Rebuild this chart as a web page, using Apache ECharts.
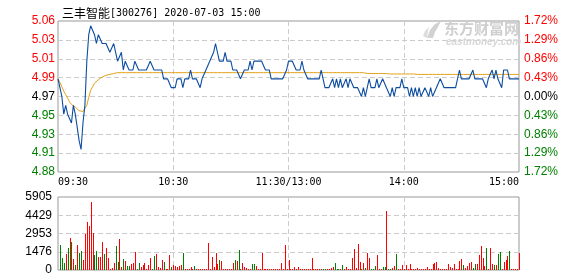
<!DOCTYPE html>
<html><head><meta charset="utf-8">
<script src="https://cdn.jsdelivr.net/npm/echarts@6/dist/echarts.min.js"></script>
<style>html,body{margin:0;padding:0;background:#fff}#c{width:578px;height:276px}</style>
</head><body><div id="c"></div>
<script>
const stockName = '三丰智能';
const stockCode = '[300276]';
const dateTime = '2020-07-03 15:00';
const prevClose = 4.97;
const pctStep = 0.43;
const timeTicks = ['09:30', '10:30', '11:30/13:00', '14:00', '15:00'];
const volTicks = [0, 1476, 2953, 4429, 5905];

const price = [
4.99,4.98,4.97,4.95,4.96,4.95,4.95,4.94,4.96,4.95,
4.95,4.92,4.91,4.94,4.96,5.01,5.04,5.05,5.05,5.04,
5.03,5.04,5.04,5.03,5.03,5.03,5.03,5.02,5.02,5.03,
5.02,5.01,5.01,5.02,5.00,5.01,5.01,5.00,5.00,5.00,
5.01,5.01,5.00,5.00,5.00,5.00,5.00,5.00,5.01,5.01,
5.00,5.00,5.00,5.00,5.00,4.99,4.99,4.99,4.99,4.98,
4.98,4.98,4.99,4.99,4.99,4.98,4.99,4.99,4.99,5.00,
4.99,4.99,4.99,4.99,4.98,4.99,4.99,5.00,5.00,5.01,
5.01,5.02,5.03,5.03,5.01,5.01,5.01,5.02,5.01,5.01,
5.01,5.00,5.00,5.00,5.00,4.99,4.99,5.00,5.00,5.00,
5.01,5.00,5.01,5.01,5.01,5.01,5.01,5.01,5.00,5.00,
5.00,4.99,4.99,4.99,4.99,4.99,4.99,4.99,4.99,5.00,
5.01,5.01,5.01,5.01,5.00,5.00,5.00,5.01,5.00,5.00,
4.99,4.99,4.99,4.99,4.99,4.99,4.99,5.00,4.99,4.98,
4.98,4.98,4.98,4.99,4.98,4.99,4.98,4.99,4.98,4.98,
4.99,4.98,4.99,4.99,4.98,4.98,4.98,4.98,4.97,4.98,
4.97,4.98,4.99,4.98,4.98,4.98,4.99,4.98,4.98,4.99,
4.99,4.98,4.98,4.97,4.98,4.97,4.98,4.98,4.98,4.99,
4.98,4.98,4.98,4.97,4.98,4.97,4.98,4.97,4.98,4.97,
4.97,4.98,4.98,4.97,4.98,4.97,4.97,4.98,4.98,4.99,
4.99,4.98,4.98,4.98,4.98,4.98,4.98,4.98,4.99,5.00,
4.99,4.99,4.99,4.99,4.99,4.99,5.00,4.99,4.99,4.99,
4.99,4.99,4.99,4.98,4.99,4.99,5.00,4.99,5.00,4.99,
4.99,4.98,5.00,5.00,5.00,4.99,4.99,4.99,4.99,4.99,
4.99
];

const avgPrice = [
4.990,4.986,4.981,4.976,4.972,4.968,4.964,4.961,4.960,4.958,
4.956,4.954,4.953,4.953,4.954,4.960,4.969,4.977,4.981,4.985,
4.987,4.989,4.991,4.992,4.993,4.994,4.995,4.995,4.996,4.996,
4.996,4.997,4.997,4.997,4.997,4.997,4.997,4.997,4.997,4.997,
4.997,4.997,4.997,4.997,4.997,4.997,4.997,4.997,4.997,4.997,
4.997,4.997,4.997,4.997,4.997,4.997,4.997,4.997,4.997,4.997,
4.997,4.997,4.997,4.997,4.997,4.997,4.997,4.997,4.997,4.997,
4.997,4.997,4.997,4.997,4.997,4.997,4.997,4.997,4.997,4.997,
4.997,4.997,4.997,4.997,4.997,4.997,4.997,4.997,4.997,4.997,
4.997,4.997,4.997,4.997,4.997,4.997,4.997,4.997,4.997,4.997,
4.997,4.997,4.997,4.997,4.997,4.997,4.997,4.997,4.997,4.997,
4.997,4.997,4.997,4.997,4.997,4.997,4.997,4.997,4.997,4.997,
4.997,4.997,4.997,4.997,4.997,4.997,4.997,4.997,4.997,4.997,
4.997,4.997,4.997,4.997,4.997,4.997,4.997,4.997,4.997,4.997,
4.997,4.997,4.997,4.997,4.997,4.997,4.997,4.997,4.997,4.997,
4.997,4.997,4.997,4.997,4.997,4.997,4.997,4.997,4.997,4.997,
4.996,4.996,4.996,4.996,4.996,4.996,4.996,4.996,4.996,4.996,
4.996,4.996,4.9955,4.9955,4.9955,4.9955,4.9955,4.9955,4.9955,4.9955,
4.9955,4.9955,4.9955,4.9955,4.9955,4.9955,4.995,4.995,4.995,4.995,
4.995,4.995,4.995,4.995,4.995,4.995,4.995,4.995,4.995,4.995,
4.995,4.995,4.995,4.995,4.995,4.995,4.995,4.995,4.995,4.995,
4.995,4.995,4.995,4.995,4.995,4.995,4.995,4.995,4.995,4.995,
4.995,4.995,4.995,4.995,4.995,4.995,4.995,4.995,4.995,4.995,
4.995,4.995,4.995,4.995,4.995,4.995,4.995,4.995,4.995,4.995,
4.995
];

const volume = [
0,2013,993,590,1261,1798,2603,2254,859,403,
2013,1396,1530,805,2872,3865,3597,5475,3006,1181,
1530,1047,1047,2254,1261,1771,966,54,188,590,
1932,644,2469,268,886,725,322,322,456,537,
1449,54,537,268,376,537,54,376,966,107,
1127,1261,268,188,805,644,107,107,1181,268,
376,322,268,322,403,1342,107,107,107,268,
107,322,107,107,107,107,107,107,2201,107,
1047,268,1369,483,805,725,107,107,107,107,
107,564,805,725,1584,107,590,268,188,107,
107,483,483,322,107,107,1396,107,107,107,
107,107,107,107,107,107,590,107,2040,107,
798,80,80,268,80,215,80,80,80,80,
80,80,966,80,80,80,80,80,80,80,
80,80,160,268,590,107,107,107,403,107,
241,107,107,993,1691,130,2120,671,107,537,
188,1369,939,107,107,322,1208,107,107,241,
241,4751,107,107,188,322,1288,107,107,403,
107,403,107,483,107,107,107,160,107,107,
107,107,268,107,107,483,564,671,188,107,
107,107,107,483,241,188,483,107,107,752,
886,376,188,322,564,644,188,483,483,1208,
1932,993,322,1771,107,1771,483,403,403,1288,
1449,107,671,805,1127,1530,107,107,107,107,
1369
];

const volDir = (
'RGGGRGRGRG' + 'RGGRRRRRRG' + 'GRRRGRRRRR' + 'GGRRGRGGRR' + 'RGGRRRRRRG' +
'GRRRRGRRRG' + 'RRRRRGRRRR' + 'RGRRRRRRRR' + 'RRRRGRRRRR' + 'RRGRGRRRRR' +
'RGGRRRRRRR' + 'RRRRRRRRRR' + 'RRRRRRRRRR' + 'RRRRRRRRGG' + 'RRRRGGGRGR' +
'RRRRRRRRGR' + 'GRRGGGRRRG' + 'GRGGRRGRRR' + 'RRRRRRRRRR' + 'RRRRRRRRRR' +
'RRRRRRRRRR' + 'RGRRRRGGRR' + 'RRRGRRRGRG' + 'GRRRRGRRRR' + 'R').split('');

const chart = echarts.init(document.getElementById('c'), null, {renderer: 'canvas'});
const step = prevClose * pctStep / 100;
const toY = p => (p - prevClose) / step;
const upC = '#ff0000', dnC = '#008000';
const lvlColor = v => { v = Number(v); return v > 1e-9 ? upC : (v < -1e-9 ? dnC : '#000000'); };
const dashed = {show: true, showMinLine: false, showMaxLine: false,
  lineStyle: {color: '#cccccc', type: [5, 3], width: 1}};

function renderVolBar(params, api) {
  const i = api.value(0), v = api.value(1);
  if (!(v > 0)) return null;
  const base = api.coord([i, 0]);
  const top = api.coord([i, v]);
  const px = Math.round(base[0]);
  const y0 = Math.round(base[1]);
  let y1 = Math.round(top[1]);
  if (y1 >= y0) y1 = y0 - 1;
  const col = volDir[params.dataIndex] === 'G' ? dnC : upC;
  return {type: 'rect', shape: {x: px, y: y1, width: 1, height: y0 - y1},
          style: {fill: col, stroke: col, lineWidth: 0}};
}

const option = {
  animation: false,
  backgroundColor: '#ffffff',
  title: {
    text: '{a|' + stockName + '}{b|' + stockCode + ' ' + dateTime + '}',
    left: 57, top: 0,
    textStyle: {fontWeight: 'normal', rich: {
      a: {fontFamily: 'Noto Sans CJK SC', fontSize: 12, fontWeight: 'normal', color: '#000', lineHeight: 16},
      b: {fontFamily: 'DejaVu Sans Mono', fontSize: 10, fontWeight: 'normal', color: '#000', lineHeight: 16}
    }}
  },
  grid: [
    {left: 58, top: 21, width: 461, height: 151, show: true, borderColor: '#999999', borderWidth: 1, backgroundColor: 'transparent'},
    {left: 58, top: 197, width: 461, height: 73, show: true, borderColor: '#999999', borderWidth: 1, backgroundColor: 'transparent'}
  ],
  xAxis: [
    {type: 'value', gridIndex: 0, min: 0, max: 240, interval: 60,
     axisLine: {show: false}, axisTick: {show: false}, splitLine: dashed,
     axisLabel: {formatter: v => timeTicks[Math.round(v / 60)], fontFamily: 'DejaVu Sans Mono', fontSize: 10,
       color: '#000', margin: 5, alignMinLabel: 'left', alignMaxLabel: 'right', showMinLabel: true, showMaxLabel: true}},
    {type: 'value', gridIndex: 1, min: 0, max: 240, interval: 60,
     axisLine: {show: false}, axisTick: {show: false}, axisLabel: {show: false}, splitLine: dashed}
  ],
  yAxis: [
    {type: 'value', gridIndex: 0, min: -4, max: 4, interval: 1, position: 'left',
     axisLine: {show: false}, axisTick: {show: false}, splitLine: dashed,
     axisLabel: {formatter: v => (prevClose + v * step).toFixed(2), color: v => lvlColor(v),
       fontFamily: 'Liberation Sans', fontSize: 12, margin: 3, showMinLabel: true, showMaxLabel: true}},
    {type: 'value', gridIndex: 0, min: -4, max: 4, interval: 1, position: 'right',
     axisLine: {show: false}, axisTick: {show: false}, splitLine: {show: false},
     axisLabel: {formatter: v => Math.abs(v * pctStep).toFixed(2) + '%', color: v => lvlColor(v),
       fontFamily: 'Liberation Sans', fontSize: 12, margin: 5, showMinLabel: true, showMaxLabel: true}},
    {type: 'value', gridIndex: 1, min: 0, max: volTicks[4], interval: volTicks[4] / 4,
     axisLine: {show: false}, axisTick: {show: false}, splitLine: dashed,
     axisLabel: {formatter: v => String(Math.round(v)), color: '#000',
       fontFamily: 'Liberation Sans', fontSize: 12, margin: 6, showMinLabel: true, showMaxLabel: true}}
  ],
  series: [
    {type: 'line', xAxisIndex: 0, yAxisIndex: 0, z: 2, symbol: 'none', silent: true,
     data: avgPrice.map((p, i) => [i, toY(p)]), lineStyle: {color: '#e3a21a', width: 1}},
    {type: 'line', xAxisIndex: 0, yAxisIndex: 0, z: 3, symbol: 'none', silent: true,
     data: price.map((p, i) => [i, toY(p)]), lineStyle: {color: '#0c4da2', width: 1.1}},
    {type: 'custom', xAxisIndex: 1, yAxisIndex: 2, silent: true, renderItem: renderVolBar,
     itemStyle: {color: upC, borderWidth: 0},
     encode: {x: 0, y: 1}, data: volume.map((v, i) => [i, v])}
  ],
  graphic: [
    {type: 'polygon', z: 100, shape: {points: [[427,38],[430,30],[435,24],[441,21],[438,27],[435,32],[433,38]]}, style: {fill: '#d2d2d2'}},
    {type: 'polygon', z: 100, shape: {points: [[423,36],[425,31],[429,27],[428,31],[427,38]]}, style: {fill: '#dcdcdc'}},
    {type: 'text', z: 100, x: 444, y: 21, style: {text: '东方财富网', font: 'bold 15px "Noto Sans CJK SC"', fill: '#cfcfcf'}},
    {type: 'text', z: 100, x: 446, y: 37, style: {text: 'eastmoney.com', font: 'italic bold 10px "Liberation Sans"', fill: '#d6d6d6'}}
  ]
};
chart.setOption(option);
</script>
</body></html>
